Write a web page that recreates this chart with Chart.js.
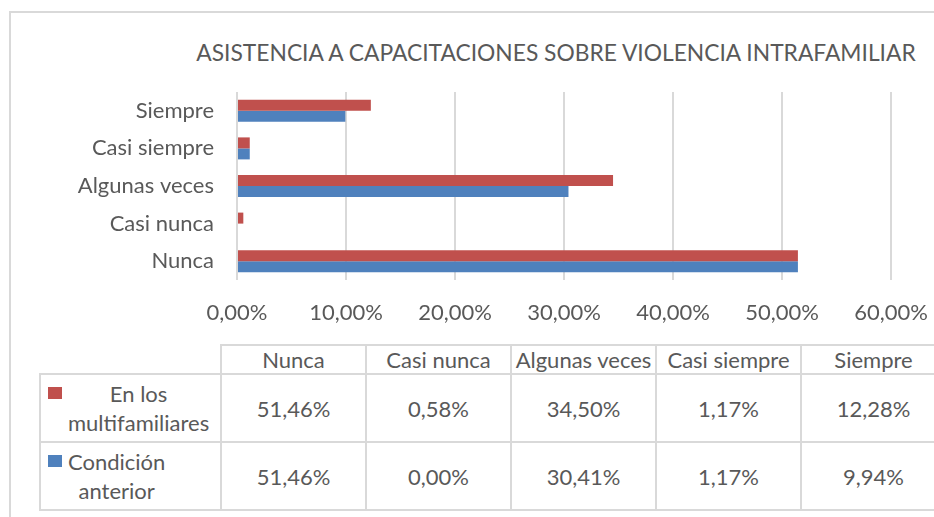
<!DOCTYPE html>
<html>
<head>
<meta charset="utf-8">
<script src="https://cdn.jsdelivr.net/npm/chart.js@4"></script>
<style>
  html, body { margin: 0; padding: 0; background: #fff; }
  body { width: 934px; height: 517px; overflow: hidden; position: relative; font-family: Lato, "Open Sans", sans-serif; color: #595959; }
  #marco { position: absolute; left: 9px; top: 11px; width: 1000px; height: 600px; border: 2px solid #d9d9d9; box-sizing: border-box; }
  #titulo { position: absolute; left: 0; top: 37px; width: 1112px; text-align: center; font-size: 22.8px; line-height: 30px; white-space: nowrap; }
  #grafico { position: absolute; left: 0; top: 0; }
  #tabla { position: absolute; left: 39px; top: 344px; width: 906px; border-collapse: collapse; table-layout: fixed; font-size: 22px; }
  #tabla td { border: 2px solid #d9d9d9; text-align: center; padding: 0; white-space: nowrap; }
  #tabla tr.cab td { height: 26px; }
  #tabla tr.fila td { height: 66px; }
  #tabla td.esquina { border-top: none; border-left: none; }
  .serie { display: flex; align-items: flex-start; padding-left: 7px; text-align: left; }
  .cuadro { width: 14px; height: 12px; margin-top: 8px; margin-right: 6px; flex: none; }
  .nombre { display: inline-block; text-align: center; line-height: 29px; }
</style>
</head>
<body>
<div id="marco"></div>
<div id="titulo"></div>
<canvas id="grafico" width="934" height="335"></canvas>
<table id="tabla"></table>
<script>
// datos
const categorias = ["Nunca", "Casi nunca", "Algunas veces", "Casi siempre", "Siempre"];
const multifamiliares = [51.46, 0.58, 34.50, 1.17, 12.28];
const anterior = [51.46, 0.00, 30.41, 1.17, 9.94];
const nombres_series = [["En los", "multifamiliares"], ["Condición", "anterior"]];
const colores = ["#C0504D", "#4F81BD"];
const titulo = "ASISTENCIA A CAPACITACIONES SOBRE VIOLENCIA INTRAFAMILIAR";

function formato(v) {
    return v.toFixed(2).replace(".", ",") + "%";
}

document.getElementById("titulo").textContent = titulo;

/* Grafico */
const fuente = { family: "Lato", size: 22 };
const ctx = document.getElementById("grafico").getContext("2d");
const myChart = new Chart(ctx, {
    type: "bar",
    data: {
        labels: categorias,
        datasets: [
            { label: nombres_series[0].join(" "), data: multifamiliares, backgroundColor: colores[0] },
            { label: nombres_series[1].join(" "), data: anterior, backgroundColor: colores[1] }
        ]
    },
    options: {
        responsive: false,
        animation: false,
        indexAxis: "y",
        categoryPercentage: 0.585,
        barPercentage: 1,
        layout: { padding: { left: 0, right: 43, top: 92, bottom: 0 } },
        plugins: {
            legend: { display: false },
            tooltip: { enabled: false },
            title: { display: false }
        },
        scales: {
            x: {
                min: 0,
                max: 60,
                ticks: { stepSize: 10, color: "#595959", font: fuente, padding: 20, callback: (v) => formato(v) },
                grid: { color: "#d9d9d9", lineWidth: 2, drawTicks: false },
                border: { display: false },
                afterFit: (s) => { s.height = 55; s.paddingLeft = 0; s.paddingRight = 0; }
            },
            y: {
                reverse: true,
                ticks: { color: "#595959", font: fuente, padding: 23 },
                grid: { display: false, drawTicks: false },
                border: { display: false },
                afterFit: (s) => { s.width = 237; }
            }
        }
    }
});

/* Tabla de datos */
const tabla = document.getElementById("tabla");
let html = '<colgroup><col style="width:181px">';
categorias.forEach(() => { html += '<col style="width:145px">'; });
html += '</colgroup><tr class="cab"><td class="esquina"></td>';
categorias.forEach((c) => { html += "<td>" + c + "</td>"; });
html += "</tr>";
[multifamiliares, anterior].forEach((serie, i) => {
    html += '<tr class="fila"><td><div class="serie"><span class="cuadro" style="background:' + colores[i] + '"></span>';
    html += '<span class="nombre">' + nombres_series[i].join("<br>") + "</span></div></td>";
    serie.forEach((v) => { html += "<td>" + formato(v) + "</td>"; });
    html += "</tr>";
});
tabla.innerHTML = html;
</script>
</body>
</html>
